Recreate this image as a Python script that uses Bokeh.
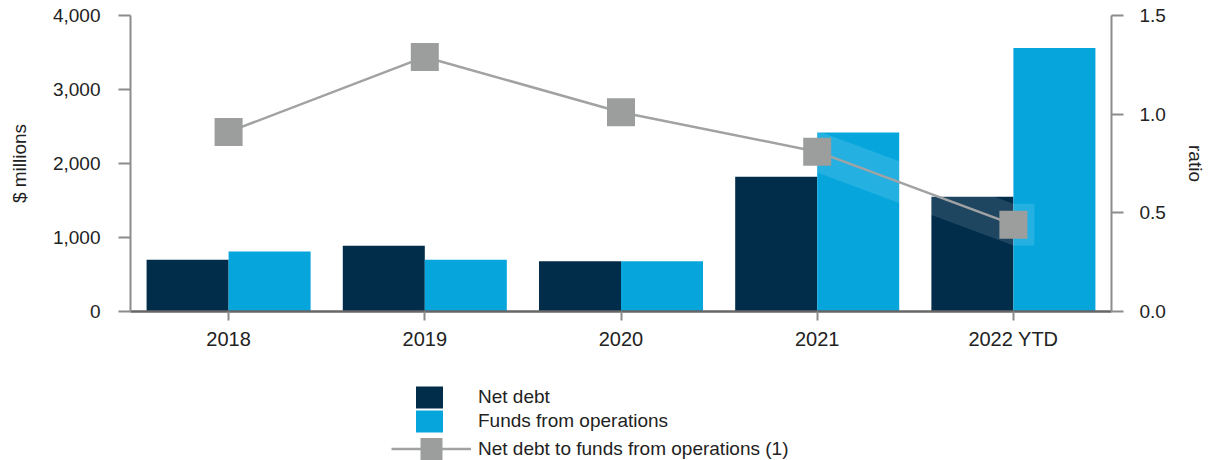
import numpy as np
from bokeh.plotting import figure
from bokeh.layouts import column
from bokeh.models import (FactorRange, Range1d, LinearAxis, FixedTicker, NumeralTickFormatter,
                          Legend, LegendItem, ColumnDataSource)
from bokeh.transform import dodge
from bokeh.embed import file_html
from bokeh.resources import INLINE

# ---------------- data ----------------
categories = ["2018", "2019", "2020", "2021", "2022 YTD"]
net_debt = [700, 890, 680, 1820, 1550]               # $ millions
funds_from_operations = [810, 700, 680, 2420, 3560]  # $ millions
ratio = [0.91, 1.29, 1.01, 0.81, 0.44]               # net debt / FFO
left_ticks = [0, 1000, 2000, 3000, 4000]
right_ticks = [0, 0.5, 1.0, 1.5]
legend_labels = ["Net debt", "Funds from operations", "Net debt to funds from operations (1)"]

# ---------------- style ----------------
FONT = "Liberation Sans"
NAVY = "#012d4b"
BLUE = "#06a6dd"
MARK = "#9b9e9d"
LINE = "#a0a2a4"
AXIS = "#8c8c8c"
TEXT = "#222222"
BAR_W = 0.418
W = 1211

p = figure(width=W, height=360,
           x_range=FactorRange(factors=categories, range_padding=0),
           y_range=Range1d(0, 4000),
           output_backend="svg", toolbar_location=None,
           min_border_left=130, min_border_right=100, min_border_top=15, min_border_bottom=49)
p.extra_y_ranges = {"ratio": Range1d(0, 1.5)}
p.outline_line_color = None
p.xgrid.visible = False
p.ygrid.visible = False

src = ColumnDataSource(dict(cat=categories, net=net_debt, ffo=funds_from_operations, ratio=ratio))

line_style = dict(line_color=LINE, line_width=2.5)
mark_style = dict(marker="square", fill_color=MARK, line_color=None)

p.vbar(x=dodge("cat", -BAR_W / 2, range=p.x_range), top="net", width=BAR_W, source=src,
       fill_color=NAVY, line_color=None)
p.vbar(x=dodge("cat", BAR_W / 2, range=p.x_range), top="ffo", width=BAR_W, source=src,
       fill_color=BLUE, line_color=None)

# translucent highlight band along the last segment of the ratio line
i21 = categories.index("2021")
i22 = categories.index("2022 YTD")
half = 0.106
ext = 0.107
band = ColumnDataSource(dict(
    x=[i21 + 0.5, i22 + 0.5, i22 + 0.5 + ext],
    y1=[ratio[i21] - half, ratio[i22] - half, ratio[i22] - half],
    y2=[ratio[i21] + half, ratio[i22] + half, ratio[i22] + half],
))
p.varea(x="x", y1="y1", y2="y2", source=band, fill_color="white", fill_alpha=0.12,
        y_range_name="ratio")

p.line(x="cat", y="ratio", source=src, y_range_name="ratio", **line_style)
p.scatter(x="cat", y="ratio", source=src, size=28, y_range_name="ratio", **mark_style)

# ---------------- axes ----------------
def style_y(ax, standoff, label_standoff):
    ax.axis_line_color = AXIS
    ax.axis_line_width = 2
    ax.major_tick_line_color = AXIS
    ax.major_tick_line_width = 2
    ax.major_tick_out = 12
    ax.major_tick_in = 0
    ax.minor_tick_out = 0
    ax.minor_tick_in = 0
    ax.major_label_standoff = standoff
    ax.major_label_text_font = FONT
    ax.major_label_text_font_size = "19px"
    ax.major_label_text_color = TEXT
    ax.axis_label_text_font = FONT
    ax.axis_label_text_font_size = "19px"
    ax.axis_label_text_font_style = "normal"
    ax.axis_label_text_color = TEXT
    ax.axis_label_standoff = label_standoff

ya = p.yaxis[0]
ya.ticker = FixedTicker(ticks=left_ticks)
ya.formatter = NumeralTickFormatter(format="0,0")
ya.axis_label = "$ millions"
style_y(ya, 18, 20)

ra = LinearAxis(y_range_name="ratio", ticker=FixedTicker(ticks=right_ticks),
                formatter=NumeralTickFormatter(format="0.0"), axis_label="ratio")
style_y(ra, 16, 16)
p.add_layout(ra, "right")

xa = p.xaxis[0]
xa.axis_line_color = "#666666"
xa.axis_line_width = 2.5
xa.major_tick_line_color = AXIS
xa.major_tick_line_width = 2
xa.major_tick_out = 9
xa.major_tick_in = 0
xa.minor_tick_out = 0
xa.major_label_standoff = 7
xa.major_label_text_font = FONT
xa.major_label_text_font_size = "20px"
xa.major_label_text_color = TEXT

# ---------------- legend (separate strip under the chart) ----------------
lf = figure(width=W, height=100, x_range=Range1d(0, 1), y_range=Range1d(0, 1),
            x_axis_type=None, y_axis_type=None, output_backend="svg", toolbar_location=None,
            min_border_left=0, min_border_right=0, min_border_top=0, min_border_bottom=0)
lf.outline_line_color = None
lf.xgrid.visible = False
lf.ygrid.visible = False
# legend proxies: a single undrawable (NaN) point each, only their styles are used
proxy = ColumnDataSource(dict(x=np.array([np.nan]), y=np.array([np.nan])))
k_net = lf.vbar(x="x", top="y", width=0.1, source=proxy,
                fill_color=NAVY, line_color=NAVY, line_width=3, line_join="miter")
k_ffo = lf.vbar(x="x", top="y", width=0.1, source=proxy,
                fill_color=BLUE, line_color=BLUE, line_width=3, line_join="miter")
k_line = lf.line(x="x", y="y", source=proxy, **line_style)
k_mark = lf.scatter(x="x", y="y", source=proxy, size=28, **mark_style)

common = dict(padding=0, margin=0, border_line_color=None, background_fill_alpha=0,
              label_text_font=FONT, label_text_font_size="19px", label_text_color=TEXT,
              label_height=20, spacing=0)
leg1 = Legend(items=[LegendItem(label=legend_labels[0], renderers=[k_net]),
                     LegendItem(label=legend_labels[1], renderers=[k_ffo])],
              location=(284, 27), glyph_width=30, glyph_height=24,
              label_standoff=34, **common)
leg2 = Legend(items=[LegendItem(label=legend_labels[2], renderers=[k_line, k_mark])],
              location=(261, -16), glyph_width=80, glyph_height=55,
              label_standoff=7, **common)
lf.add_layout(leg1)
lf.add_layout(leg2)

layout = column(p, lf, spacing=0)
open("out.html", "w").write(file_html(layout, INLINE))
